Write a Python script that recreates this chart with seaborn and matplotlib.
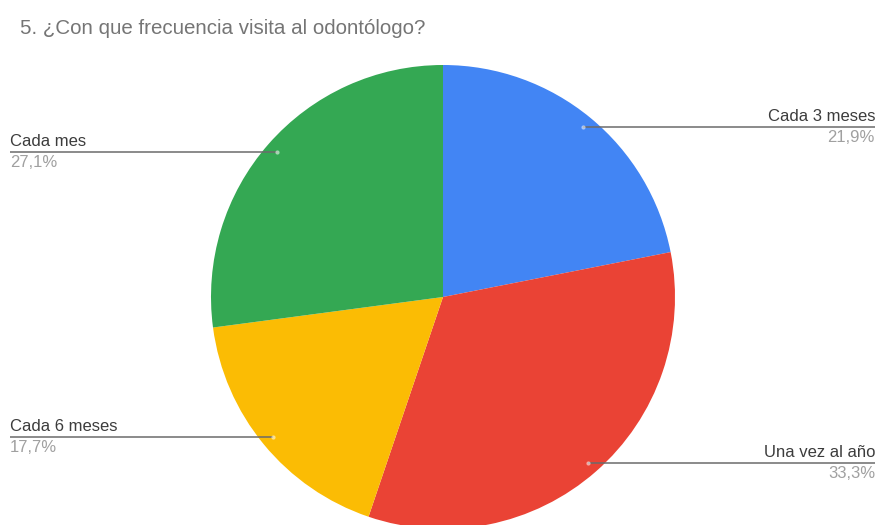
import numpy as np
import matplotlib
matplotlib.use("Agg")
import matplotlib.pyplot as plt
import seaborn as sns

# Survey answers, in clockwise order starting at 12 o'clock
categories = ["Cada 3 meses", "Una vez al año", "Cada 6 meses", "Cada mes"]
percentages = [21.9, 33.3, 17.7, 27.1]
pct_labels = ["21,9%", "33,3%", "17,7%", "27,1%"]
title = "5. ¿Con que frecuencia visita al odontólogo?"

sns.set_theme(style="white")
plt.rcParams["font.family"] = ["Liberation Sans", "DejaVu Sans"]
palette = sns.color_palette(["#4285F4", "#EA4335", "#FBBC04", "#34A853"])

W, H = 880, 525
fig = plt.figure(figsize=(W / 100, H / 100), dpi=100)
ax = fig.add_axes([0, 0, 1, 1])

# Pixel-style coordinates: y grows downward
cx, cy, r = 443, 297, 232
wedges, _ = ax.pie(percentages, colors=palette, center=(cx, cy), radius=r,
                   startangle=-90, counterclock=True,
                   wedgeprops=dict(linewidth=0))
ax.set_xlim(0, W)
ax.set_ylim(H, 0)
ax.set_aspect("equal")
ax.axis("off")

# Leader lines running out to the left/right margins
cum = np.cumsum([0] + percentages)
for i, (cat, pct) in enumerate(zip(categories, pct_labels)):
    mid = (cum[i] + cum[i + 1]) / 2 / 100 * 2 * np.pi  # clockwise from top
    px = cx + 0.95 * r * np.sin(mid)
    py = cy - 0.95 * r * np.cos(mid)
    right = np.sin(mid) > 0
    xe = 875 if right else 10
    ha = "right" if right else "left"
    ax.plot([px, xe], [py, py], color="#6b6b6b", lw=1.1, solid_capstyle="butt")
    ax.plot(px, py, "o", ms=3, color="white", alpha=0.55, mec="none")
    ax.text(xe, py - 3, cat, ha=ha, va="bottom", fontsize=12, color="#3c3c3c")
    ax.text(xe, py + 3, pct, ha=ha, va="top", fontsize=12, color="#a0a0a0")

fig.text(20 / W, 1 - 28 / H, title, ha="left", va="center",
         fontsize=14.8, color="#757575")

fig.savefig("out.png", dpi=100, facecolor="white")
